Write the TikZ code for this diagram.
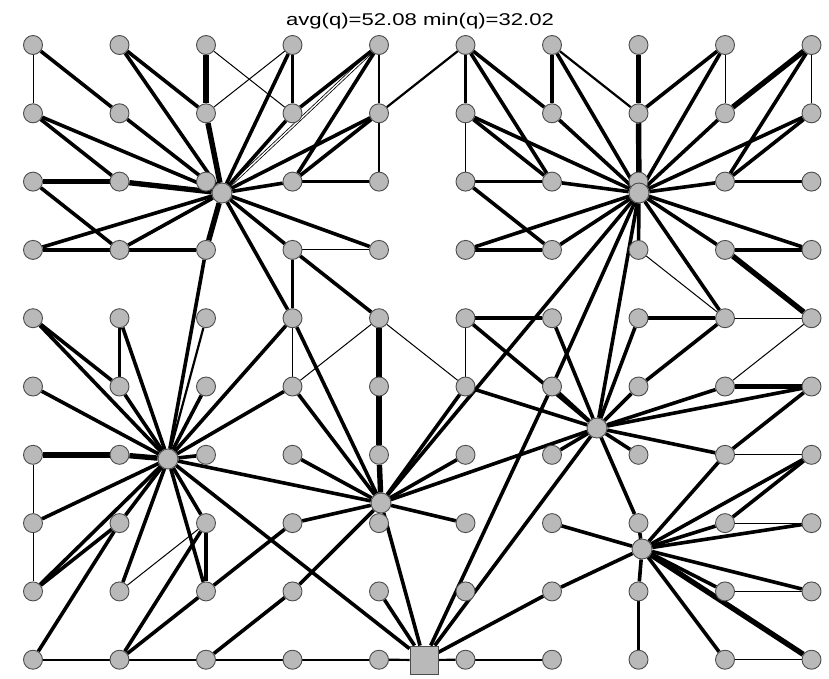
\documentclass[tikz,border=0pt]{standalone}
\usepackage{fontspec}
\setsansfont{Liberation Sans}
\usetikzlibrary{backgrounds}
\begin{document}
\begin{tikzpicture}[x=1pt, y=-1pt,
    cell/.style={circle, fill=gray!55, draw=black!70, line width=0.9pt, minimum size=19pt, inner sep=0pt},
    hub/.style={cell, minimum size=20pt},
    sink/.style={rectangle, fill=gray!55, draw=black!70, line width=0.9pt, minimum size=28pt, inner sep=0pt},
    lt/.style={line width=1pt},
    lm/.style={line width=2.2pt},
    lk/.style={line width=3.6pt},
    lx/.style={line width=5.4pt},
    ld/.style={double, line width=0.8pt, double distance=1.4pt}]

  \useasboundingbox (0,0) rectangle (829,678);

  % titre
  \node[font=\sffamily\fontsize{17}{20}\selectfont] (title) at (420,21)
    {\scalebox{1.3}[1]{avg(q)=52.08 min(q)=32.02}};

  % grille des capteurs
  \foreach \cx in {0,...,9}
    \foreach \ry in {0,...,9}
      \node[cell] (n\cx\ry) at ({33+86.5*\cx}, {45+68.3*\ry}) {};

  % tetes de cluster et puits
  \node[hub] (A) at (222,193) {};
  \node[hub] (B) at (639,193) {};
  \node[hub] (C) at (168,459) {};
  \node[hub] (D) at (381,503) {};
  \node[hub] (E) at (597,428) {};
  \node[hub] (F) at (642,549) {};
  \node[sink] (S) at (424,660) {};

  \begin{pgfonlayer}{background}
    \fill[white] (0,0) rectangle (829,678);

    % liens fins
    \foreach \a/\b in {n00/n01, n20/n31, n21/n30, n33/n43, n51/n52, n80/n81, n90/n91,
        n73/n84, n34/n35, n44/n35, n44/n55, n06/n07, n07/n08, n18/n27, n54/n55,
        n84/n94, n94/n85, n86/n96, n87/n97, n88/n98, n89/n99}
      \draw[lt] (\a) -- (\b);

    % liens moyens
    \foreach \a/\b in {n40/n41, n41/n42, n41/n50, n60/n71, n14/n15, n24/C,
        n09/n19, n19/n29, n29/n39, n39/n49, n49/S, S/n59, n59/n69}
      \draw[lm] (\a) -- (\b);

    \draw[ld] (n40) -- (A);

    % liens epais
    \foreach \a/\b in {n00/n11, n11/A, n10/n21, n10/A, n30/n31, n30/A, n31/A, n31/n40,
        n40/n32, n41/A, n41/n32, n42/n32, n32/A, n01/n12, n01/A, n02/n13, n03/A,
        n03/n13, n13/n23, n13/A, n22/A, A/n33, A/n43, A/n34, n33/n34, n33/n44,
        n50/n51, n50/n61, n50/n62, n51/n62, n51/B, n60/n61, n60/B, n61/B, n80/B,
        n80/n71, n81/B, n90/n82, n91/B, n91/n82, n82/n92, n82/B, n52/n62, n62/B,
        n52/n63, n53/n63, n53/B, n63/B, n73/B, n83/B, n83/n93, n93/B, B/n84,
        n04/n15, n04/C, n14/C, n15/C, n05/C, n25/C, n23/C, n34/C, n35/C, n26/C,
        n34/D, n35/D, n36/D, C/D, n07/C, n08/C, n08/n17, n09/n17, n17/C, n18/C,
        n19/n27, n19/n28, n27/C, n27/n28, C/n28, n28/n37, n29/n38, n37/D, n38/D, C/S,
        n54/n64, n54/E, n64/E, n74/n84, n74/E, n84/n75, n75/E, n85/E, n95/E, n95/n86,
        n55/E, n65/E, n86/E, n76/E, n66/E, n56/D, n55/D, B/D, B/n65, n65/S, B/E,
        E/D, E/S, E/n77, D/n57, D/S, n48/S, n68/S, n68/F, n67/F, n77/F, F/n86,
        F/n96, n87/n96, F/n87, F/n97, F/n98, F/n88, F/n89, F/n78, n78/n79}
      \draw[lk] (\a) -- (\b);

    % liens tres epais
    \foreach \a/\b in {n20/n21, n21/A, n02/n12, n12/A, n23/A, n70/n71, n71/B, n90/n81,
        n83/n94, n06/n16, n16/C, n44/n45, n45/n46, n46/D, n85/n95, F/n99}
      \draw[lx] (\a) -- (\b);
  \end{pgfonlayer}

\end{tikzpicture}
\end{document}
